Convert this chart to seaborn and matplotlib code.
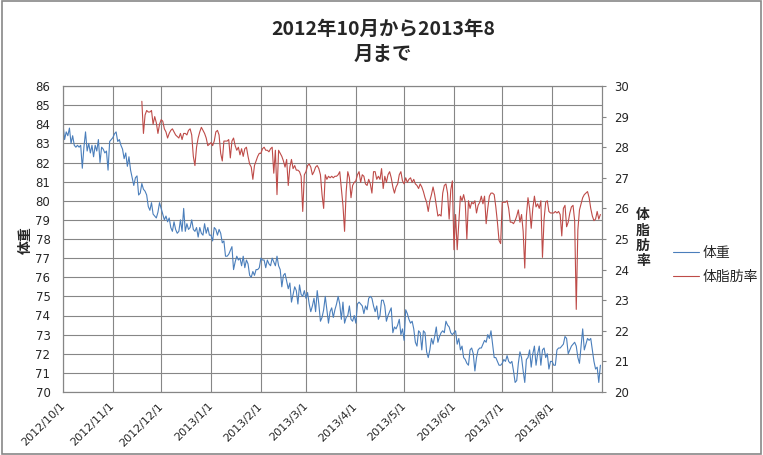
import numpy as np
import pandas as pd
import matplotlib
matplotlib.use('Agg')
import matplotlib.pyplot as plt
import seaborn as sns
from matplotlib.patches import Rectangle
from matplotlib.font_manager import FontProperties

sns.set_style('white')
plt.rcParams['font.family'] = ['DejaVu Sans', 'Noto Sans CJK JP']

#daily weight (kg)
w_oct = [84.0, 83.2, 83.6, 83.4, 83.8, 83.0, 83.4, 82.9, 82.8, 82.9,
         82.8, 82.9, 81.7, 82.8, 83.6, 82.6, 83.0, 82.5, 82.9, 82.3,
         82.9, 82.6, 83.2, 82.0, 82.8, 82.7, 82.5, 82.6, 81.6, 83.1, 83.2]
w_nov = [83.3, 83.5, 83.6, 83.1, 83.2, 82.9, 82.7, 82.2, 82.5, 81.8,
         82.3, 81.6, 81.2, 80.8, 81.2, 81.3, 80.3, 80.4, 80.9, 80.6,
         80.5, 80.3, 79.7, 79.5, 79.9, 79.3, 79.2, 79.1, 79.4, 79.9]
w_dec = [79.6, 79.3, 79.0, 79.2, 78.9, 79.1, 78.6, 78.4, 78.9, 78.5,
         78.3, 78.4, 79.0, 78.4, 79.6, 78.4, 78.8, 78.5, 78.6, 79.0,
         78.5, 78.4, 78.6, 78.1, 78.6, 78.3, 78.2, 78.8, 78.3, 78.6, 78.2]
w_jan = [78.2, 77.9, 78.6, 78.5, 78.2, 78.5, 78.3, 77.8, 77.9, 77.1,
         77.1, 77.2, 77.4, 77.6, 76.4, 76.8, 77.1, 76.9, 77.0, 76.6,
         77.1, 76.5, 76.9, 76.7, 76.1, 76.0, 76.3, 76.1, 76.4, 76.4, 76.5]
w_feb = [77.0, 76.9, 76.9, 76.5, 76.9, 76.7, 76.6, 77.0, 76.8, 76.6,
         77.1, 76.6, 76.4, 75.5, 76.1, 76.2, 75.8, 75.4, 75.7, 74.7,
         75.1, 75.5, 75.3, 74.6, 75.6, 75.1, 75.0, 75.3]
w_mar = [74.9, 75.2, 74.6, 74.2, 74.5, 74.9, 74.2, 75.3, 74.6, 73.7,
         73.9, 74.3, 75.0, 74.3, 73.6, 74.2, 74.4, 73.9, 74.3, 74.6,
         75.0, 74.6, 73.8, 74.7, 73.6, 73.9, 74.0, 74.5, 73.8, 73.7, 74.0]
w_apr = [73.6, 74.6, 74.7, 74.6, 74.5, 74.1, 74.5, 74.3, 74.9, 75.0,
         74.9, 74.5, 74.2, 74.5, 73.8, 74.0, 74.8, 74.8, 74.5, 73.7,
         74.0, 74.2, 74.4, 73.1, 73.4, 73.3, 73.5, 73.8, 73.0, 73.3]
w_may = [72.7, 74.3, 74.1, 73.8, 73.6, 73.7, 73.3, 72.6, 72.4, 73.2,
         73.1, 72.2, 73.2, 73.1, 72.1, 71.8, 72.2, 72.8, 72.5, 72.9,
         73.4, 72.6, 72.9, 73.1, 73.2, 73.1, 73.7, 73.5, 73.4, 73.1, 73.0]
w_jun = [73.1, 73.2, 72.5, 72.8, 72.2, 72.4, 71.8, 71.7, 71.5, 71.4,
         72.2, 72.3, 72.0, 71.1, 71.8, 72.2, 72.3, 72.3, 72.5, 72.7,
         72.6, 73.0, 72.8, 73.2, 72.5, 71.8, 71.8, 71.6, 71.4, 71.4]
w_jul = [71.5, 71.7, 71.6, 71.9, 71.6, 71.5, 71.6, 71.1, 70.5, 70.6,
         71.5, 72.1, 71.8, 71.1, 70.5, 71.7, 71.8, 72.2, 71.3, 72.0,
         72.4, 71.4, 72.0, 72.4, 71.4, 72.2, 72.3, 71.8, 72.0, 71.2, 71.6]
w_aug = [71.6, 71.4, 71.4, 72.2, 72.3, 72.3, 72.4, 72.5, 72.9, 72.8,
         72.0, 72.2, 72.4, 72.5, 72.6, 72.4, 71.8, 71.5, 72.4, 73.3,
         72.2, 72.5, 72.8, 72.7, 72.8, 72.2, 71.6, 71.2, 71.3, 70.5, 71.4]

#daily body fat (%), starts 2012/11/19
f_nov = [29.5, 28.45, 29.05, 29.2, 29.15, 29.15, 29.2, 28.75, 29.0, 28.8,
         28.45, 28.75]
f_dec = [28.9, 28.85, 28.6, 28.5, 28.3, 28.45, 28.55, 28.6, 28.5, 28.4,
         28.35, 28.3, 28.45, 28.25, 28.45, 28.45, 28.4, 28.55, 28.6, 28.4,
         27.7, 27.4, 28.0, 28.3, 28.5, 28.65, 28.55, 28.45, 28.3, 28.05, 28.1]
f_jan = [28.15, 28.05, 28.2, 28.5, 28.55, 28.4, 27.8, 27.55, 28.2, 28.2,
         28.2, 28.25, 27.65, 28.2, 28.3, 28.05, 27.9, 28.0, 27.75, 27.95,
         27.7, 27.95, 28.0, 27.7, 27.45, 27.35, 26.95, 27.4, 27.55, 27.7, 27.8]
f_feb = [27.8, 27.95, 28.0, 27.9, 27.9, 27.85, 27.95, 28.0, 27.15, 27.9,
         26.45, 27.9, 27.8, 27.7, 27.55, 27.35, 27.6, 26.75, 27.35, 27.6,
         27.3, 27.4, 27.25, 27.25, 27.2, 27.05, 25.9, 27.1]
f_mar = [27.2, 27.4, 27.45, 27.35, 27.1, 27.2, 27.35, 27.4, 27.3, 27.1,
         26.45, 26.0, 27.1, 26.95, 27.05, 27.0, 27.05, 27.0, 27.05, 27.05,
         27.1, 27.2, 26.65, 26.1, 25.25, 26.55, 27.2, 27.0, 26.35, 26.75, 26.85]
f_apr = [26.9, 27.1, 27.2, 26.85, 27.1, 27.05, 26.8, 26.75, 26.95, 26.8,
         26.5, 27.2, 27.2, 26.95, 27.05, 26.95, 27.3, 26.65, 27.05, 26.85,
         27.1, 27.2, 27.0, 26.7, 26.5, 26.7, 26.8, 27.1, 27.2, 26.9]
f_may = [26.8, 27.0, 26.85, 26.95, 27.0, 26.85, 26.95, 26.8, 26.75, 26.65,
         26.8, 26.7, 26.55, 26.35, 26.2, 25.9, 26.25, 26.45, 26.7, 26.45,
         26.1, 25.75, 25.8, 25.75, 26.5, 26.75, 26.8, 26.5, 25.65, 26.6, 26.9]
f_jun = [24.65, 25.8, 24.65, 25.55, 26.4, 26.25, 26.45, 26.2, 25.0, 26.25,
         26.0, 26.2, 26.15, 26.25, 25.85, 26.1, 26.2, 26.4, 26.15, 26.4,
         25.5, 26.0, 26.4, 26.5, 26.5, 26.45, 26.05, 25.55, 24.95, 24.85]
f_jul = [26.2, 26.2, 26.2, 26.25, 26.0, 25.55, 25.55, 25.5, 25.6, 25.75,
         25.95, 25.55, 25.8, 25.25, 24.05, 25.75, 26.35, 26.0, 25.35, 26.0,
         26.4, 26.05, 26.15, 26.0, 26.25, 24.4, 25.65, 26.2, 26.25, 25.9, 25.85]
f_aug = [25.85, 25.85, 25.9, 25.85, 25.9, 25.8, 25.1, 26.0, 26.1, 25.4,
         25.55, 25.85, 26.05, 26.1, 25.6, 22.7, 25.3, 25.95, 26.15, 26.35,
         26.45, 26.5, 26.55, 26.35, 26.0, 25.75, 25.6, 25.65, 25.9, 25.65, 25.8]

weight = w_oct + w_nov + w_dec + w_jan + w_feb + w_mar + w_apr + w_may + w_jun + w_jul + w_aug
fat = f_nov + f_dec + f_jan + f_feb + f_mar + f_apr + f_may + f_jun + f_jul + f_aug
weight_dates = pd.date_range('2012-10-01', periods=len(weight), freq='D')
fat_dates = pd.date_range('2012-11-19', periods=len(fat), freq='D')

month_ticks = pd.date_range('2012-10-01', '2013-08-01', freq='MS')
month_labels = [f'{d.year}/{d.month}/{d.day}' for d in month_ticks]

title = '2012年10月から2013年8\n月まで'
jp = 'Noto Sans CJK JP'
gridc = '#868686'

fig = plt.figure(figsize=(7.63, 4.55), dpi=100)
ax = fig.add_axes([63/763, 1-392/455, (602-63)/763, (392-86)/455])
ax2 = ax.twinx()

sns.lineplot(x=weight_dates, y=weight, ax=ax, color='#4A7EBB', linewidth=0.8)
sns.lineplot(x=fat_dates, y=fat, ax=ax2, color='#BE4B48', linewidth=0.8)

ax.set_xlim(pd.Timestamp('2012-10-01'), pd.Timestamp('2013-09-01'))
ax.set_ylim(70, 86)
ax.set_yticks(range(70, 87))
ax2.set_ylim(20, 30)
ax2.set_yticks(range(20, 31))
ax.set_xticks(month_ticks)
ax.set_xticklabels(month_labels, rotation=45, ha='right', va='center',
                   rotation_mode='anchor', fontsize=8)
ax.set_xlabel('')
ax.set_ylabel('')
ax2.set_ylabel('')

ax.grid(True, color=gridc, linewidth=0.8)
ax2.grid(False)
for s in ax.spines.values():
    s.set_color(gridc)
    s.set_linewidth(0.8)
for s in ax2.spines.values():
    s.set_color(gridc)
    s.set_linewidth(0.8)

ax.tick_params(axis='y', length=0, pad=9, labelsize=8.5)
ax.tick_params(axis='x', length=0, pad=9)
ax2.tick_params(axis='y', length=3, width=0.8, color=gridc, pad=6, labelsize=8.5)

#axis titles
fig.text(26/763, 1-240/455, '体重', rotation=90, ha='center', va='center',
         family=jp, fontsize=10, fontweight='bold')
fig.text(643/763, 1-238/455, '体\n脂\n肪\n率', ha='center', va='center',
         family=jp, fontsize=10, fontweight='bold', linespacing=1.1)

#title
fig.text(383/763, 1-42/455, title, ha='center', va='center', family=jp,
         fontsize=14, fontweight='bold', linespacing=1.45)

#legend
handles = [ax.get_lines()[0], ax2.get_lines()[0]]
fig.legend(handles, ['体重', '体脂肪率'], loc='center left',
           bbox_to_anchor=(673/763, 1-265/455), frameon=False,
           prop=FontProperties(family=jp, size=10), handlelength=1.9,
           handletextpad=0.2, labelspacing=0.7, borderpad=0, borderaxespad=0)

#chart border
fig.patches.append(Rectangle((0.002, 0.003), 0.996, 0.994, transform=fig.transFigure,
                             fill=False, edgecolor='#888888', linewidth=1.2))

plt.savefig('out.png', dpi=100)
